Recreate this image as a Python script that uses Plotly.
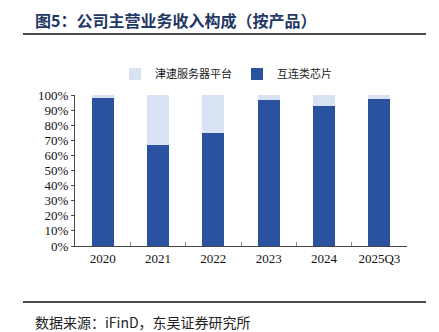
import plotly.graph_objects as go

categories = ["2020", "2021", "2022", "2023", "2024", "2025Q3"]
interconnect = [98.3, 67.0, 74.6, 96.5, 92.9, 97.2]
server = [round(100 - v, 1) for v in interconnect]
tick_vals = list(range(0, 101, 10))
tick_text = [f"{v}%" for v in tick_vals]

DARK = "#2B52A0"
LIGHT = "#D9E2F3"
CJK = "Noto Sans CJK SC"
SERIF = "Liberation Serif"

W, H = 439, 332
l, r, t, b = 75, 32, 95, 86
pw, ph = W - l - r, H - t - b
def px(x): return (x - l) / pw
def py(y): return 1 - (y - t) / ph

fig = go.Figure()
fig.add_trace(go.Bar(x=categories, y=interconnect, name="互连类芯片",
                     marker=dict(color=DARK, line=dict(width=0))))
fig.add_trace(go.Bar(x=categories, y=server, name="津逮服务器平台",
                     marker=dict(color=LIGHT, line=dict(width=0))))

fig.update_layout(
    width=W, height=H,
    barmode="stack", bargap=0.6,
    margin=dict(l=l, r=r, t=t, b=b),
    paper_bgcolor="white", plot_bgcolor="white",
    showlegend=True,
    legend=dict(orientation="h", x=px(226), xanchor="center", y=py(74), yanchor="middle",
                traceorder="reversed", font=dict(family=CJK, size=11, color="#222"),
                itemwidth=30),
    xaxis=dict(showline=True, linecolor="#444", linewidth=1,
               tickson="boundaries", ticks="inside", ticklen=4, tickcolor="#888",
               tickfont=dict(family=SERIF, size=13, color="#111"), showgrid=False),
    yaxis=dict(range=[0, 100], tickvals=tick_vals, ticktext=tick_text,
               showline=True, linecolor="#444", linewidth=1,
               ticks="outside", ticklen=3, tickcolor="#444",
               tickfont=dict(family=SERIF, size=13, color="#111"),
               showgrid=False, zeroline=False),
    annotations=[
        dict(text="<b>图5：公司主营业务收入构成（按产品）</b>", x=px(33), y=py(20),
             xref="paper", yref="paper", showarrow=False, xanchor="left", yanchor="middle",
             font=dict(family=CJK, size=16, color="#1F3864")),
        dict(text="数据来源：iFinD，东吴证券研究所", x=px(33), y=py(322),
             xref="paper", yref="paper", showarrow=False, xanchor="left", yanchor="middle",
             font=dict(family=CJK, size=14, color="#222")),
    ],
)

fig.add_shape(type="line", xref="paper", yref="paper", x0=px(23), x1=px(426), y0=py(34), y1=py(34),
              line=dict(color="#111", width=1.5))
fig.add_shape(type="line", xref="paper", yref="paper", x0=px(23), x1=px(426), y0=py(302), y1=py(302),
              line=dict(color="#111", width=1.5))

fig.write_html("out.html")
